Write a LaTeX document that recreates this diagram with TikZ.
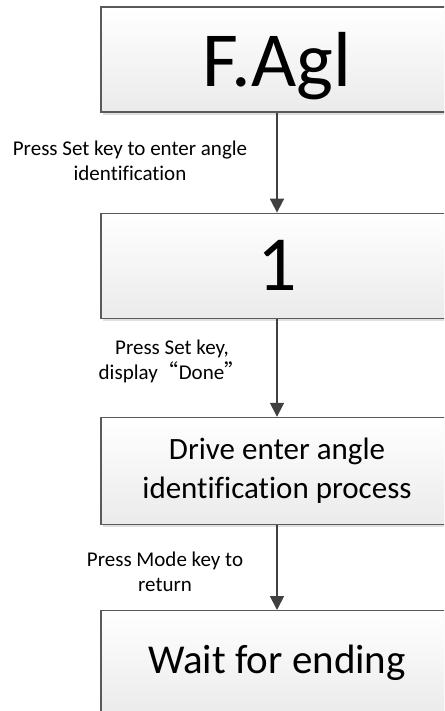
\documentclass[tikz,border=0pt]{standalone}
\usepackage{fontspec}
\setmainfont[Ligatures=CommonOff]{Carlito}
\newfontfamily\cjk{Noto Sans CJK SC}
\usetikzlibrary{positioning,arrows.meta,shadows}
\definecolor{edgegray}{HTML}{404040}
\definecolor{boxline}{HTML}{5A5A5A}

\begin{document}
\begin{tikzpicture}[x=1pt,y=1pt,
    flowbox/.style={rectangle,draw=boxline,line width=1.2pt,minimum width=352pt,minimum height=105pt,inner sep=0pt,top color=white,bottom color=black!8,drop shadow={shadow xshift=2pt,shadow yshift=-3pt,fill=black!12,opacity=1},align=center},
    flowarrow/.style={-{Triangle[length=14pt,width=14pt]},line width=1.8pt,draw=edgegray},
    steplabel/.style={align=center,font=\fontsize{21}{25}\selectfont}]
    \useasboundingbox (0,0) rectangle (444,-711);
    \clip (0,0) rectangle (444,-711);

    \node[flowbox,text depth=0pt,font=\fontsize{78}{80}\selectfont] (fagl) at (277,-59.5) {F.Agl};
    \node[flowbox,below=100pt,font=\fontsize{78}{80}\selectfont] (one) at (fagl.south) {1};
    \node[flowbox,below=98pt,minimum height=107pt,font=\fontsize{31}{39}\selectfont] (drive) at (one.south) {Drive enter angle\\identification process};
    \node[flowbox,below=85pt,font=\fontsize{41}{45}\selectfont] (wait) at (drive.south) {Wait for ending};

    \node[steplabel] (setlbl) at (130,-160.5) {Press Set key to enter angle\\identification};
    \node[steplabel] (donelbl) at (172,-361) {Press Set key,\\display{\cjk “}Done{\cjk ”}};
    \node[steplabel] (modelbl) at (165,-572) {Press Mode key to\\return};

    \draw[flowarrow] (fagl) -- (one);
    \draw[flowarrow] (one) -- (drive);
    \draw[flowarrow] (drive) -- (wait);
\end{tikzpicture}
\end{document}
